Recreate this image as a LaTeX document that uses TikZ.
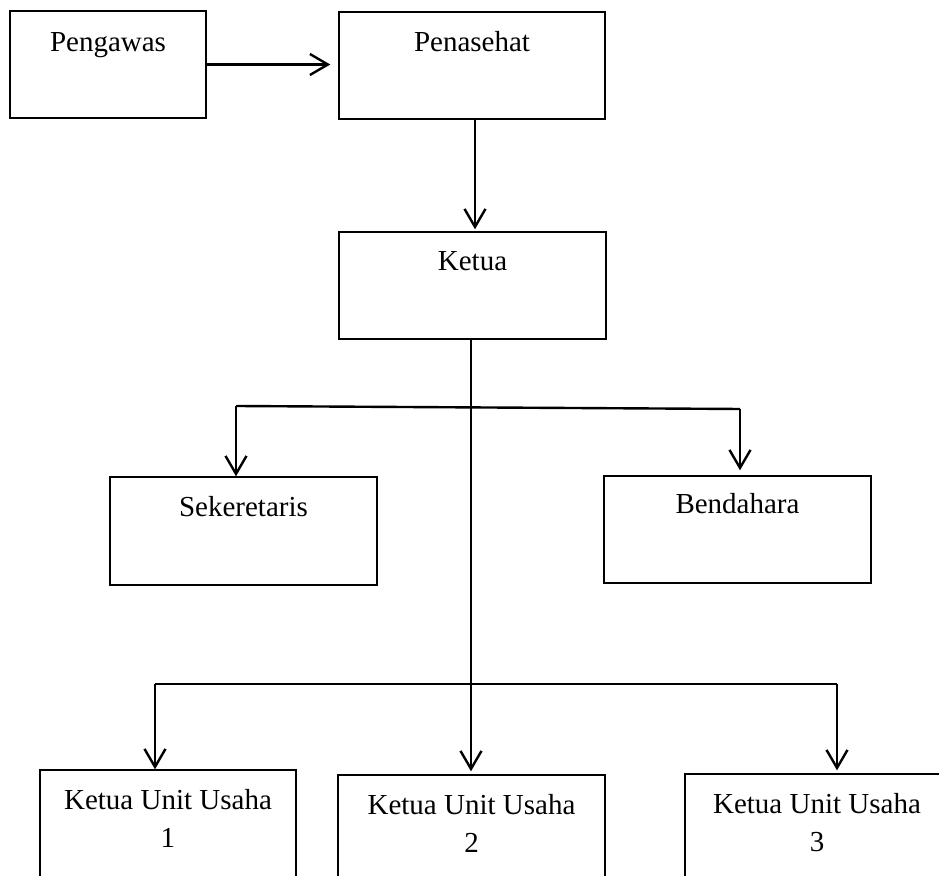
\documentclass[tikz,border=0pt]{standalone}
\usepackage{fontspec}
\setmainfont{Liberation Serif}
\usetikzlibrary{arrows.meta}
\begin{document}
\begin{tikzpicture}
      [ x=0.5pt, y=-0.5pt
      , >={Straight Barb[length=9pt, width=10.5pt]}
      , kotak/.style={draw, line width=0.7pt, minimum height=53.5pt, inner sep=0pt}
      , judul/.style={anchor=north, inner sep=0pt, align=center, yshift=-10pt, font=\fontsize{14.5}{19}\selectfont}
      , garis/.style={black, line width=1.2pt}
      ]
    \clip (0,0) rectangle (939,876);

    \node[kotak, minimum width=98pt] (PW) at (108, 64.5) {};
    \node[kotak, minimum width=133pt] (PN) at (472, 65.5) {};
    \node[kotak, minimum width=133.5pt] (K) at (472.5, 285.5) {};
    \node[kotak, minimum width=133.5pt, minimum height=54pt] (S) at (243.5, 531) {};
    \node[kotak, minimum width=133.5pt] (B) at (737.5, 529.5) {};
    \node[kotak, minimum width=128pt] (U1) at (168, 823.5) {};
    \node[kotak, minimum width=133.5pt] (U2) at (471.5, 828.5) {};
    \node[kotak, minimum width=132pt] (U3) at (817, 827.5) {};

    \node[judul, yshift=-1pt] (PWt) at (PW.north) {Pengawas};
    \node[judul] (PNt) at (PN.north) {Penasehat};
    \node[judul] (Kt) at (K.north) {Ketua};
    \node[judul] (St) at (S.north) {Sekeretaris};
    \node[judul, yshift=1pt] (Bt) at (B.north) {Bendahara};
    \node[judul] (U1t) at (U1.north) {Ketua Unit Usaha\\1};
    \node[judul] (U2t) at (U2.north) {Ketua Unit Usaha\\2};
    \node[judul] (U3t) at (U3.north) {Ketua Unit Usaha\\3};

    \coordinate (cA) at (236, 406);
    \coordinate (cB) at (740, 409);
    \coordinate (cC) at (155, 684);
    \coordinate (cD) at (837, 684);

    \draw[->, garis, shorten >=4pt]
    (PW.east) -- (PW.east -| PN.west);

    \draw[->, garis, shorten >=1pt]
    (PN.south -| 475,0) -- (K.north -| 475,0);

    \draw[->, garis, shorten >=1.5pt]
    (K.south -| 471,0) -- (U2.north -| 471,0);

    \draw[garis] (cA) -- (cB);
    \draw[garis] (cC) -- (cD);

    \draw[garis]
    (cA) edge[->] (cA |- S.north)
    (cC) edge[->] (cC |- U1.north);

    \draw[garis]
    (cB) edge[->, shorten >=2.5pt] (cB |- B.north)
    (cD) edge[->, shorten >=1.5pt] (cD |- U3.north);
    \end{tikzpicture}
\end{document}
